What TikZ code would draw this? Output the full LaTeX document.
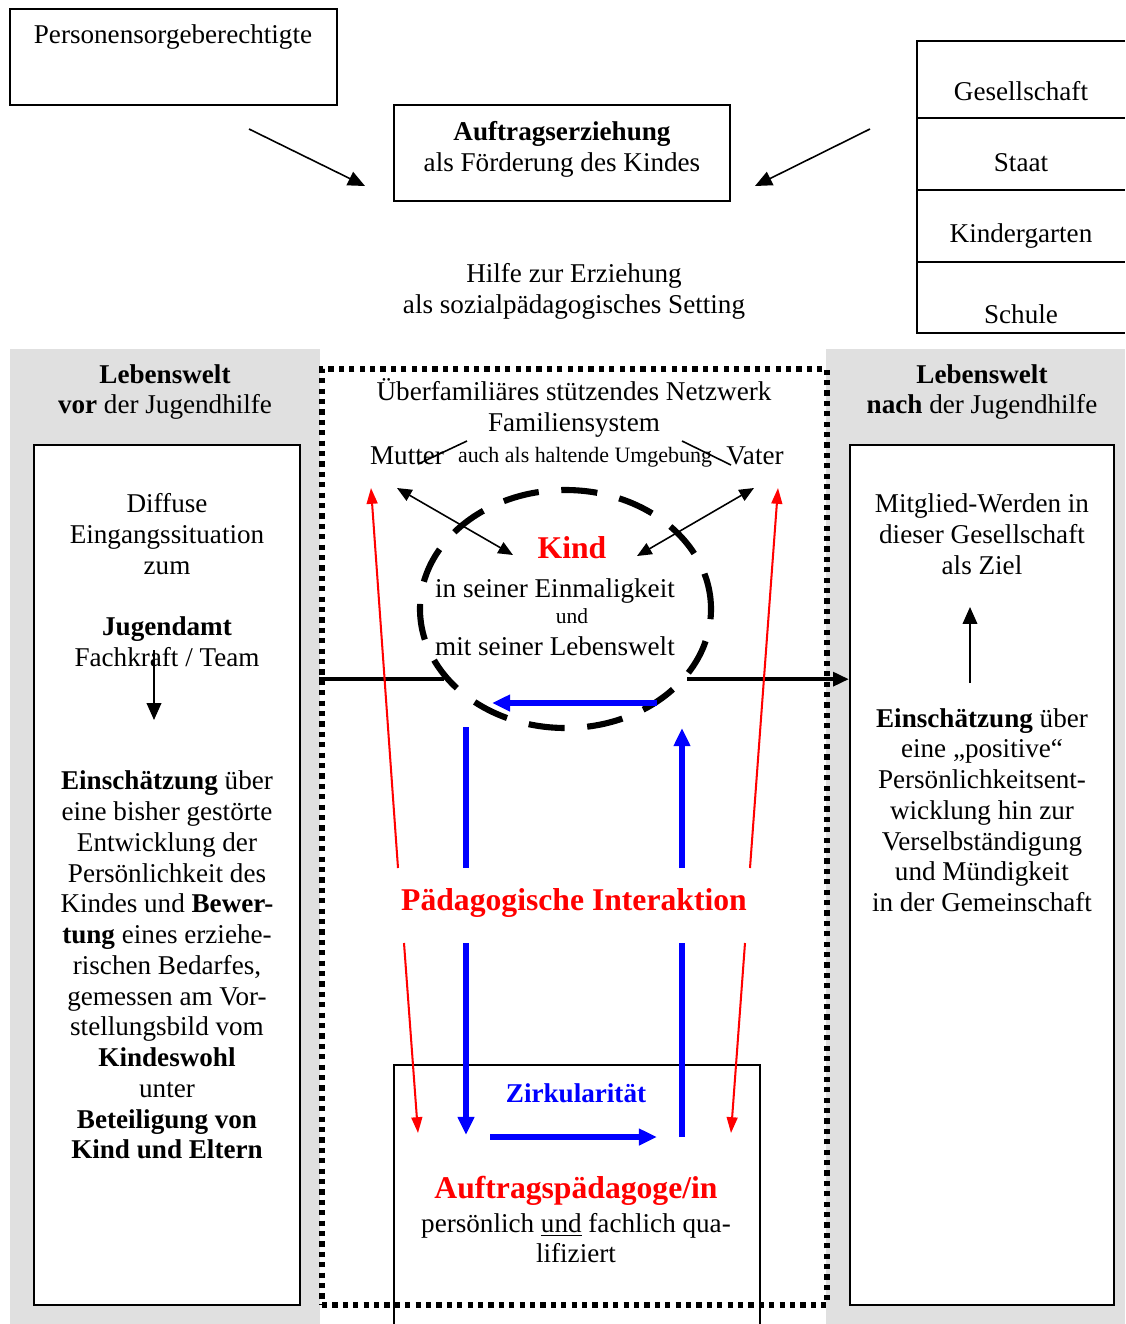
\documentclass[tikz,border=0pt]{standalone}
\usepackage{fontspec}
\setmainfont{Liberation Serif}
\usetikzlibrary{arrows.meta,shapes.geometric}
\definecolor{grau}{RGB}{224,224,224}
\newcommand{\einheit}{0.4423pt}
\tikzset{
	txt/.style={align=center, inner sep=0pt, font=\fontsize{12}{13.6}\selectfont},
	klein/.style={txt, font=\fontsize{9.7}{11}\selectfont},
	gross/.style={align=center, inner sep=0pt, text=red, font=\fontsize{14}{16}\selectfont\bfseries},
	blautext/.style={align=center, inner sep=0pt, text=blue, font=\fontsize{12}{13.6}\selectfont\bfseries},
	kasten/.style={draw, line width=0.9pt, inner sep=0pt},
	rahmen/.style={draw, line width=2.3pt, dash pattern=on 2.3pt off 2.3pt, inner sep=0pt},
	kreis/.style={draw, ellipse, line width=2.7pt, dash pattern=on 16pt off 10pt, inner sep=0pt},
	pfeil/.style={-{Triangle[length=7.5pt,width=6.5pt]}, line width=0.7pt},
	doppelpfeil/.style={{Triangle[length=6.5pt,width=5.5pt]}-{Triangle[length=6.5pt,width=5.5pt]}, line width=0.7pt},
	rotpfeil/.style={-{Triangle[length=7pt,width=4.8pt]}, red, line width=0.9pt},
	blaupfeil/.style={-{Triangle[length=8pt,width=7pt]}, blue, line width=2.3pt},
	blaulinie/.style={blue, line width=2.3pt},
	dicklinie/.style={line width=1.8pt},
}
\begin{document}
\begin{tikzpicture}[x=0.4423pt, y=-0.4423pt]
	\useasboundingbox (0,0) rectangle (1125,1324);

	% oben
	\node[kasten, minimum width=327*\einheit, minimum height=96*\einheit]	(sorge)	at (173.5,57)	{};
	\node[txt]	(sorgetxt)	at (173,37)	{Personensorgeberechtigte};
	\node[kasten, minimum width=336*\einheit, minimum height=96*\einheit]	(auftrag)	at (562,153)	{};
	\node[txt]	(auftragtxt)	at (562,149)	{\textbf{Auftragserziehung}\\als Förderung des Kindes};
	\node[txt]	(hilfe)	at (574,291)	{Hilfe zur Erziehung\\als sozialpädagogisches Setting};

	\draw[line width=0.9pt] (1125,41) -- (917,41) -- (917,333) -- (1125,333);
	\foreach \y in {118,190,262}
		\draw[line width=0.9pt] (917,\y) -- (1125,\y);
	\node[txt]	(gesellschaft)	at (1021,91)	{Gesellschaft};
	\node[txt]	(staat)	at (1021,163)	{Staat};
	\node[txt]	(kindergarten)	at (1021,236)	{Kindergarten};
	\node[txt]	(schule)	at (1021,314)	{Schule};

	\coordinate	(sorgeA)	at (249,129);
	\coordinate	(auftragL)	at (365,186);
	\coordinate	(staatA)	at (870,129);
	\coordinate	(auftragR)	at (755,186);
	\draw[pfeil]	(sorgeA) -- (auftragL);
	\draw[pfeil]	(staatA) -- (auftragR);

	% Lebenswelten
	\fill[grau] (10,349) rectangle (320,1324);
	\fill[grau] (826,349) rectangle (1125,1324);
	\node[txt]	(vorkopf)	at (165,392)	{\textbf{Lebenswelt}\\\textbf{vor} der Jugendhilfe};
	\node[txt]	(nachkopf)	at (982,392)	{\textbf{Lebenswelt}\\\textbf{nach} der Jugendhilfe};
	\node[kasten, fill=white, minimum width=266*\einheit, minimum height=860*\einheit]	(vorbox)	at (167,875)	{};
	\node[kasten, fill=white, minimum width=264*\einheit, minimum height=860*\einheit]	(nachbox)	at (982,875)	{};

	\node[txt]	(diffus)	at (167,580)	{Diffuse\\Eingangssituation\\zum\\[13.6pt]\textbf{Jugendamt}\\Fachkraft / Team};
	\node[txt]	(einschvor)	at (167,965)	{\textbf{Einschätzung} über\\eine bisher gestörte\\Entwicklung der\\Persönlichkeit des\\Kindes und \textbf{Bewer-}\\\textbf{tung} eines erziehe-\\rischen Bedarfes,\\gemessen am Vor-\\stellungsbild vom\\\textbf{Kindeswohl}\\unter\\\textbf{Beteiligung von}\\\textbf{Kind und Eltern}};
	\node[txt]	(ziel)	at (982,534)	{Mitglied-Werden in\\dieser Gesellschaft\\als Ziel};
	\node[txt]	(einschnach)	at (982,810)	{\textbf{Einschätzung} über\\eine „positive“\\Persönlichkeitsent-\\wicklung hin zur\\Verselbständigung\\und Mündigkeit\\in der Gemeinschaft};

	\coordinate	(jaA)	at (154,650);
	\coordinate	(jaB)	at (154,720);
	\coordinate	(zielA)	at (970,683);
	\coordinate	(zielB)	at (970,607);
	\draw[pfeil]	(jaA) -- (jaB);
	\draw[pfeil]	(zielA) -- (zielB);

	% Netzwerk
	\node[rahmen, minimum width=505*\einheit, minimum height=936*\einheit]	(netz)	at (574.5,837)	{};
	\draw[line width=0.9pt] (394,1324) -- (394,1065) -- (760,1065) -- (760,1324);

	\node[txt]	(netzwerk)	at (574,408)	{Überfamiliäres stützendes Netzwerk\\Familiensystem};
	\node[txt]	(mutter)	at (407,456)	{Mutter};
	\node[klein]	(halt)	at (585,457)	{auch als haltende Umgebung};
	\node[txt]	(vater)	at (755,456)	{Vater};
	\coordinate	(strichLa)	at (418,464);
	\coordinate	(strichLb)	at (467,441);
	\coordinate	(strichRa)	at (682,441);
	\coordinate	(strichRb)	at (731,465);
	\draw[line width=0.7pt]	(strichLa) -- (strichLb);
	\draw[line width=0.7pt]	(strichRa) -- (strichRb);

	\node[kreis, minimum width=291*\einheit, minimum height=238*\einheit]	(kreis)	at (565.5,609)	{};
	\node[gross]	(kind)	at (572,548)	{Kind};
	\node[txt]	(einmalig)	at (555,591)	{in seiner Einmaligkeit};
	\node[txt, font=\fontsize{9.5}{11}\selectfont]	(und)	at (572,616)	{und};
	\node[txt]	(lebenswelt)	at (555,646)	{mit seiner Lebenswelt};

	\coordinate	(mutterP)	at (397,488);
	\coordinate	(kindL)	at (513,555);
	\coordinate	(vaterP)	at (754,488);
	\coordinate	(kindR)	at (637,556);
	\draw[doppelpfeil]	(mutterP) -- (kindL);
	\draw[doppelpfeil]	(vaterP) -- (kindR);

	\draw[dicklinie]	(kreis.210 -| netz.west) -- (kreis.210);
	\draw[dicklinie, -{Triangle[length=7pt,width=6pt]}]	(kreis.330) -- (kreis.330 -| nachbox.west);

	\node[gross]	(interaktion)	at (574,903)	{Pädagogische Interaktion};
	\node[blautext]	(zirk)	at (576,1093)	{Zirkularität};
	\node[gross]	(paedagoge)	at (576,1191)	{Auftragspädagoge/in};
	\node[txt]	(qualifiziert)	at (576,1238)	{persönlich \underline{und} fachlich qua-\\lifiziert};

	% rote Pfeile
	\coordinate	(rotLo)	at (398,868);
	\coordinate	(rotLoT)	at (371,488);
	\coordinate	(rotLu)	at (404,943);
	\coordinate	(rotLuT)	at (418,1133);
	\coordinate	(rotRo)	at (750,868);
	\coordinate	(rotRoT)	at (778,488);
	\coordinate	(rotRu)	at (745,943);
	\coordinate	(rotRuT)	at (731,1133);
	\draw[rotpfeil]	(rotLo) -- (rotLoT);
	\draw[rotpfeil]	(rotLu) -- (rotLuT);
	\draw[rotpfeil]	(rotRo) -- (rotRoT);
	\draw[rotpfeil]	(rotRu) -- (rotRuT);

	% blaue Pfeile
	\coordinate	(blauOa)	at (657,703);
	\coordinate	(blauOb)	at (492,703);
	\coordinate	(blauLa)	at (466,727);
	\coordinate	(blauLb)	at (466,868);
	\coordinate	(blauLc)	at (466,943);
	\coordinate	(blauLd)	at (466,1135);
	\coordinate	(blauRa)	at (682,1137);
	\coordinate	(blauRb)	at (682,943);
	\coordinate	(blauRc)	at (682,868);
	\coordinate	(blauRd)	at (682,728);
	\coordinate	(blauUa)	at (490,1137);
	\coordinate	(blauUb)	at (657,1137);
	\draw[blaupfeil]	(blauOa) -- (blauOb);
	\draw[blaulinie]	(blauLa) -- (blauLb);
	\draw[blaupfeil]	(blauLc) -- (blauLd);
	\draw[blaulinie]	(blauRa) -- (blauRb);
	\draw[blaupfeil]	(blauRc) -- (blauRd);
	\draw[blaupfeil]	(blauUa) -- (blauUb);

\end{tikzpicture}
\end{document}
